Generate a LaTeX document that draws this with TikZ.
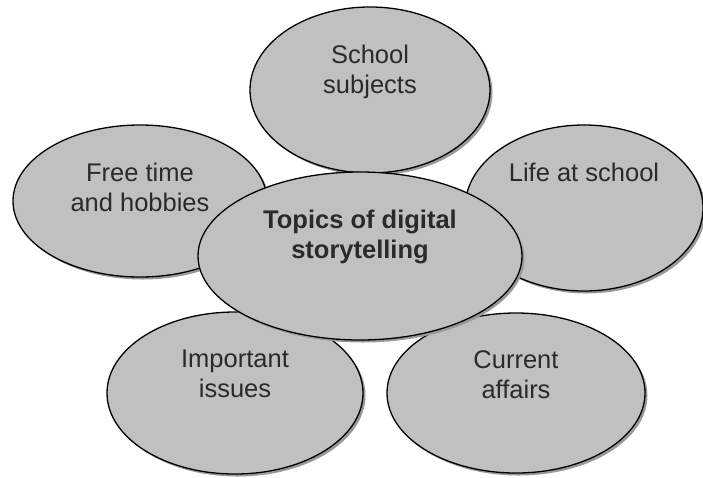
\documentclass[tikz,border=0pt]{standalone}
\usepackage{fontspec}
\setmainfont{Liberation Sans}
\usepackage{tikz}
\usetikzlibrary{shapes.geometric,shadows,positioning}

\definecolor{petalgray}{HTML}{C0C0C0}
\definecolor{inkgray}{HTML}{2A2A2A}

\begin{document}
\begin{tikzpicture}[x=1pt,y=-1pt,
  petal/.style={ellipse,draw=black,line width=1.3pt,fill=petalgray,inner sep=0pt,
    drop shadow={shadow xshift=2.5pt,shadow yshift=-2.5pt,fill=gray!80,opacity=1}},
  petal text/.style={inner sep=0pt,align=center,text=inkgray,
    font=\fontsize{25.5}{30}\selectfont}]
  \useasboundingbox (0,0) rectangle (703,477);

  % outer topics
  \node[petal,minimum width=240pt,minimum height=166pt] (school) at (370,90) {};
  \node[petal text,below=38pt of school.north] (school_txt) {School\\subjects};

  \node[petal,minimum width=254pt,minimum height=152pt] (free) at (140,201) {};
  \node[petal text,below=38pt of free.north] (free_txt) {Free time\\and hobbies};

  \node[petal,minimum width=238pt,minimum height=166pt] (life) at (584,208) {};
  \node[petal text,below=38pt of life.north] (life_txt) {Life at school};

  \node[petal,minimum width=256pt,minimum height=162pt] (issues) at (235,393) {};
  \node[petal text,below=38pt of issues.north] (issues_txt) {Important\\issues};

  \node[petal,minimum width=258pt,minimum height=160pt] (affairs) at (516,393) {};
  \node[petal text,below=38pt of affairs.north] (affairs_txt) {Current\\affairs};

  % centre topic on top of the rest
  \node[petal,minimum width=324pt,minimum height=168pt] (hub) at (360,256) {};
  \node[petal text,font=\fontsize{25.5}{30}\selectfont\bfseries,below=38pt of hub.north]
    (hub_txt) {Topics of digital\\storytelling};
\end{tikzpicture}
\end{document}
